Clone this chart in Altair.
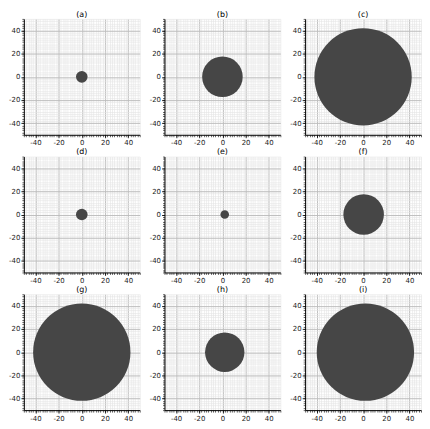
import altair as alt
import pandas as pd

# panel data
panel_titles = ["(a)", "(b)", "(c)", "(d)", "(e)", "(f)", "(g)", "(h)", "(i)"]
center_x = [0, 0, 0, 0, 2, 0.5, 0, 2, 2]
center_y = [0, 0, 0, 0, 0, 0, 0, 0, 0]
radius = [5, 17.5, 42, 5, 3.7, 17.5, 42, 17, 42]

major_ticks = [-40, -20, 0, 20, 40]
minor_ticks = list(range(-50, 51, 2))
domain = [-50, 50]

W = 117
H = 117
FONT = "DejaVu Sans"


def axis_minor(orient):
    return alt.Axis(values=minor_ticks, labels=False, ticks=True, tickSize=2,
                    tickColor="#000000", tickWidth=0.6, domain=False, grid=True,
                    gridColor="#e4e4e4", gridWidth=0.6, title=None, orient=orient)


def axis_major(orient):
    return alt.Axis(values=major_ticks, labels=True, ticks=True, tickSize=3,
                    tickColor="#000000", tickWidth=0.8, domain=True,
                    domainColor="#000000", domainWidth=1, grid=True,
                    gridColor="#b4b4b4", gridWidth=0.8, title=None,
                    labelFont=FONT, labelFontSize=7, labelColor="#222222",
                    labelPadding=1, orient=orient,
                    labelExpr="replace(datum.label, '\u2212', '-')")


def panel(i):
    df = pd.DataFrame({"x": [center_x[i]], "y": [center_y[i]], "r": [radius[i]]})
    base = alt.Chart(df)
    sc = alt.Scale(domain=domain, nice=False, zero=False)
    minor = base.mark_point(opacity=0).encode(
        x=alt.X("x:Q", scale=sc, axis=axis_minor("bottom")),
        y=alt.Y("y:Q", scale=sc, axis=axis_minor("left")),
    )
    major = base.mark_circle(opacity=1, color="#464646").encode(
        x=alt.X("x:Q", scale=sc, axis=axis_major("bottom")),
        y=alt.Y("y:Q", scale=sc, axis=axis_major("left")),
        size=alt.Size("d:Q", scale=None, legend=None),
    ).transform_calculate(d=f"pow(2 * datum.r * {W} / 100, 2)")
    return alt.layer(minor, major).resolve_axis(
        x="independent", y="independent"
    ).properties(
        width=W, height=H,
        title=alt.TitleParams(panel_titles[i], font=FONT, fontSize=8,
                              fontWeight="normal", color="#000000", offset=0,
                              anchor="middle"),
    )


rows = []
for r in range(3):
    rows.append(alt.hconcat(*[panel(r * 3 + c) for c in range(3)], spacing=8))

chart = alt.vconcat(*rows, spacing=2).properties(padding=0).configure_view(
    strokeWidth=0
)

chart.save("out.html", embed_options={"renderer": "svg", "actions": False})
